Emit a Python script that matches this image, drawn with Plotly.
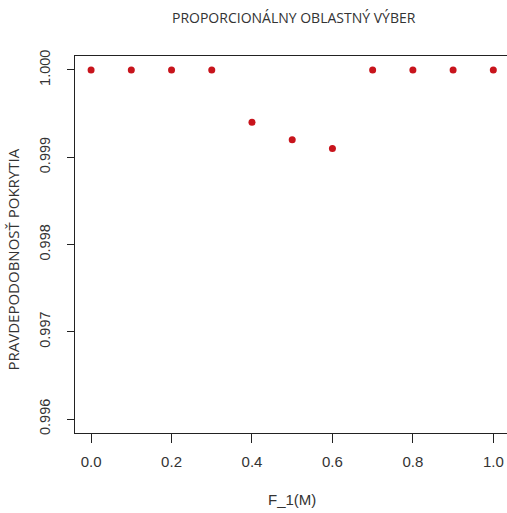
import plotly.graph_objects as go

f1_m = [0.0, 0.1, 0.2, 0.3, 0.4, 0.5, 0.6, 0.7, 0.8, 0.9, 1.0]
pokrytie = [1.0, 1.0, 1.0, 1.0, 0.9994, 0.9992, 0.9991, 1.0, 1.0, 1.0, 1.0]
x_ticks = [0.0, 0.2, 0.4, 0.6, 0.8, 1.0]
x_ticklabels = ["0.0", "0.2", "0.4", "0.6", "0.8", "1.0"]
y_ticks = [0.996, 0.997, 0.998, 0.999, 1.000]
y_ticklabels = ["0.996", "0.997", "0.998", "0.999", "1.000"]

W, H = 507, 513
L, R, T, B = 75, 0, 56, 80
PW, PH = W - L - R, H - T - B


def px(xp):
    return (xp - L) / PW


def py(yp):
    return (H - B - yp) / PH


fig = go.Figure()
fig.add_trace(go.Scatter(
    x=f1_m, y=pokrytie, mode="markers",
    marker=dict(color="#C8141C", size=7, line=dict(width=0)),
    hoverinfo="skip", showlegend=False,
))

fig.update_layout(
    width=W, height=H,
    margin=dict(l=L, r=R, t=T, b=B),
    paper_bgcolor="white", plot_bgcolor="white",
    font=dict(family="Liberation Sans, Arial, sans-serif", color="#222", size=15),
    xaxis=dict(
        range=[-0.04, 1.034], tickvals=x_ticks, ticktext=x_ticklabels,
        showgrid=False, zeroline=False, showline=True, linecolor="#222", linewidth=1,
        mirror=True, ticks="outside", ticklen=9, tickcolor="#222",
        ticklabelstandoff=6,
        tickfont=dict(size=15, color="#333"),
    ),
    yaxis=dict(
        range=[0.99584, 1.00016], tickvals=y_ticks, ticktext=y_ticklabels,
        showgrid=False, zeroline=False, showline=True, linecolor="#222", linewidth=1,
        mirror=False, ticks="outside", ticklen=7, tickcolor="#222",
        ticklabelstandoff=11,
        tickangle=-90, tickfont=dict(size=14.5, color="#333"),
    ),
    annotations=[
        dict(text="PROPORCIONÁLNY OBLASTNÝ VÝBER", xref="paper", yref="paper",
             x=px(294), y=py(17), xanchor="center", yanchor="middle", showarrow=False,
             font=dict(family="Open Sans, sans-serif", size=14, color="#333")),
        dict(text="PRAVDEPODOBNOSŤ POKRYTIA", xref="paper", yref="paper",
             x=px(12.5), y=py(260), textangle=-90, xanchor="center", yanchor="middle",
             showarrow=False,
             font=dict(family="Open Sans, sans-serif", size=15, color="#333")),
        dict(text="F_1(M)", xref="paper", yref="paper",
             x=px(292), y=py(499), xanchor="center", yanchor="middle", showarrow=False,
             font=dict(family="Liberation Sans, Arial, sans-serif", size=15, color="#333")),
    ],
)
fig.write_html("out.html")
